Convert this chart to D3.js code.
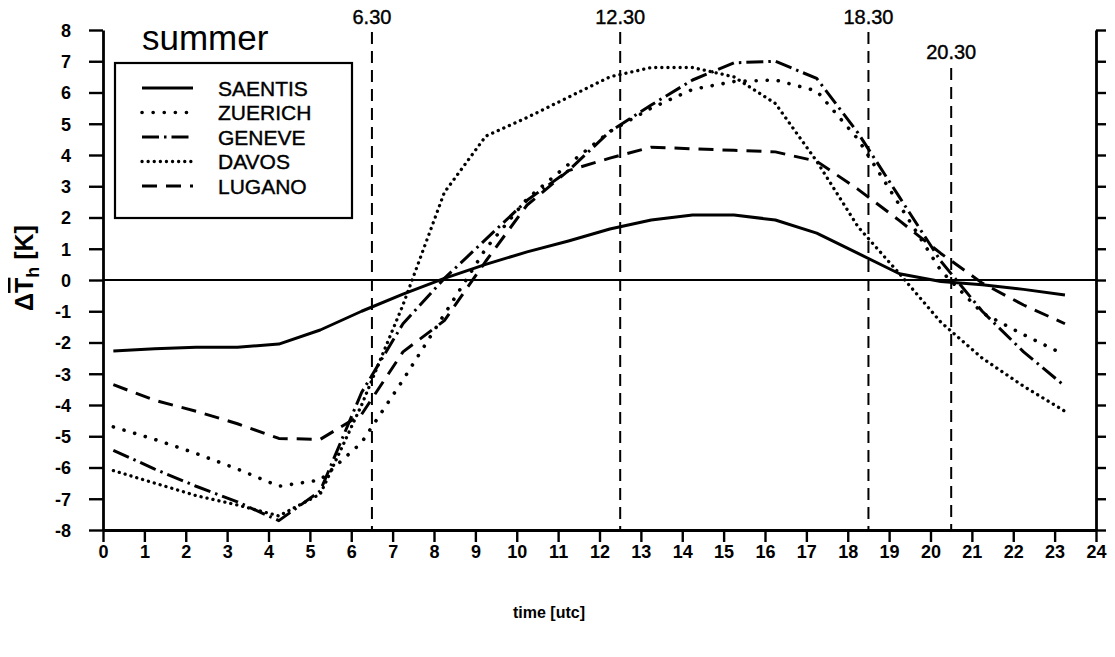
<!DOCTYPE html>
<html>
<head>
<meta charset="utf-8">
<script src="https://cdn.jsdelivr.net/npm/d3@7"></script>
<style>
  body { margin: 0; background: #fff; }
  svg { display: block; font-family: Arial, "Liberation Sans", Helvetica, sans-serif; }
</style>
</head>
<body>
<div id="chart"></div>
<script>
// hourly means, plotted at quarter past each hour
const hours = [0.25, 1.25, 2.25, 3.25, 4.25, 5.25, 6.25, 7.25, 8.25, 9.25, 10.25, 11.25,
               12.25, 13.25, 14.25, 15.25, 16.25, 17.25, 18.25, 19.25, 20.25, 21.25, 22.25, 23.25];

const saentis = [-2.27, -2.2, -2.15, -2.15, -2.05, -1.6, -1.0, -0.45, 0.05, 0.5, 0.9, 1.25,
                 1.63, 1.92, 2.08, 2.08, 1.92, 1.5, 0.85, 0.2, -0.05, -0.15, -0.3, -0.48];
const zuerich = [-4.7, -5.1, -5.55, -6.05, -6.6, -6.4, -5.2, -3.2, -1.1, 1.0, 2.6, 3.7,
                 4.75, 5.5, 6.1, 6.35, 6.4, 6.05, 4.5, 2.4, 0.3, -1.05, -1.75, -2.4];
const geneve  = [-5.45, -6.05, -6.6, -7.1, -7.7, -6.75, -3.6, -1.4, 0.05, 1.3, 2.55, 3.5,
                 4.75, 5.6, 6.4, 6.95, 7.0, 6.45, 4.7, 2.65, 0.6, -1.0, -2.3, -3.4];
const davos   = [-6.1, -6.5, -6.9, -7.2, -7.55, -6.85, -4.0, -0.8, 2.8, 4.6, 5.2, 5.85,
                 6.5, 6.8, 6.8, 6.5, 5.65, 3.8, 1.7, 0.2, -1.35, -2.5, -3.4, -4.2];
const lugano  = [-3.35, -3.85, -4.2, -4.6, -5.07, -5.1, -4.3, -2.3, -1.3, 0.6, 2.4, 3.5,
                 3.9, 4.25, 4.2, 4.15, 4.1, 3.8, 2.9, 1.9, 0.85, -0.1, -0.8, -1.4];

const stationNames = ["SAENTIS", "ZUERICH", "GENEVE", "DAVOS", "LUGANO"];
const stationValues = [saentis, zuerich, geneve, davos, lugano];
const stationDash = ["none", "0.1,11", "17,5,2.5,5", "0.1,6", "15,9"];
const stationCap = ["butt", "round", "butt", "round", "butt"];
const stationWidth = [3, 3.6, 3, 3.3, 3];

const xTicks = [0, 1, 2, 3, 4, 5, 6, 7, 8, 9, 10, 11, 12, 13, 14, 15, 16, 17, 18, 19, 20, 21, 22, 23, 24];
const yTicks = [-8, -7, -6, -5, -4, -3, -2, -1, 0, 1, 2, 3, 4, 5, 6, 7, 8];

const markTimes = [6.5, 12.5, 18.5, 20.5];
const markLabels = ["6.30", "12.30", "18.30", "20.30"];

const W = 1115, H = 657;
const margin = { top: 30, right: 19, bottom: 127, left: 103 };
const width = W - margin.left - margin.right;
const height = H - margin.top - margin.bottom;

const svg = d3.select("#chart")
  .append("svg")
  .attr("width", W)
  .attr("height", H)
  .append("g")
  .attr("transform", `translate(${margin.left},${margin.top})`);

const x = d3.scaleLinear().domain([0, 24]).range([0, width]);
const y = d3.scaleLinear().domain([-8, 8]).range([height, 0]);

// axes
const yAxis = svg.append("g")
  .call(d3.axisLeft(y).tickValues(yTicks).tickSize(14).tickSizeOuter(0).tickPadding(18).tickFormat(d => String(d)));
const xAxis = svg.append("g")
  .attr("transform", `translate(0,${height})`)
  .call(d3.axisBottom(x).tickValues(xTicks).tickSize(12).tickSizeOuter(0).tickPadding(3).tickFormat(d => String(d)));
const rAxis = svg.append("g")
  .attr("transform", `translate(${width},0)`)
  .call(d3.axisRight(y).tickValues(yTicks).tickSize(10).tickSizeOuter(0).tickFormat(""));

[yAxis, xAxis, rAxis].forEach(a => {
  a.select(".domain").attr("stroke", "#000").attr("stroke-width", 2.8);
  a.selectAll(".tick line").attr("stroke", "#000").attr("stroke-width", 2.4);
  a.selectAll(".tick text")
    .attr("fill", "#000")
    .style("font-size", "18px")
    .style("font-weight", "bold");
});
yAxis.selectAll(".tick text").attr("dy", "0.36em");

// zero line
svg.append("line")
  .attr("x1", 0).attr("x2", width)
  .attr("y1", y(0)).attr("y2", y(0))
  .attr("stroke", "#000").attr("stroke-width", 2.2);

// time marks
markTimes.forEach((t, i) => {
  const top = i === 3 ? 38 : 2;
  svg.append("line")
    .attr("x1", x(t)).attr("x2", x(t))
    .attr("y1", top).attr("y2", height)
    .attr("stroke", "#000")
    .attr("stroke-width", 2)
    .attr("stroke-dasharray", "12,7");
  svg.append("text")
    .attr("x", x(t))
    .attr("y", i === 3 ? 29 : -6)
    .attr("text-anchor", "middle")
    .style("font-size", "20px")
    .style("stroke", "#000")
    .style("stroke-width", 0.4)
    .text(markLabels[i]);
});

// station curves
const line = d3.line()
  .x((d, i) => x(hours[i]))
  .y(d => y(d));

stationValues.forEach((vals, k) => {
  svg.append("path")
    .datum(vals)
    .attr("fill", "none")
    .attr("stroke", "#000")
    .attr("stroke-width", stationWidth[k])
    .attr("stroke-dasharray", stationDash[k])
    .attr("stroke-linecap", stationCap[k])
    .attr("stroke-linejoin", "round")
    .attr("d", line);
});

// title + legend
svg.append("text")
  .attr("x", 39)
  .attr("y", 20)
  .style("font-size", "35px")
  .text("summer");

const legend = svg.append("g").attr("transform", "translate(12,33)");
legend.append("rect")
  .attr("width", 237)
  .attr("height", 155)
  .attr("fill", "#fff")
  .attr("stroke", "#000")
  .attr("stroke-width", 2.2);

const rows = legend.selectAll(".row")
  .data(stationNames)
  .enter()
  .append("g")
  .attr("transform", (d, i) => `translate(0,${25 + i * 24.5})`);

rows.append("line")
  .attr("x1", 27).attr("x2", 78)
  .attr("y1", 0).attr("y2", 0)
  .attr("stroke", "#000")
  .attr("stroke-width", (d, i) => stationWidth[i])
  .attr("stroke-dasharray", (d, i) => stationDash[i])
  .attr("stroke-linecap", (d, i) => stationCap[i]);

rows.append("text")
  .attr("x", 103)
  .attr("y", 0)
  .attr("dy", "0.36em")
  .style("font-size", "21px")
  .style("stroke", "#000")
  .style("stroke-width", 0.4)
  .text(d => d);

// axis titles
svg.append("text")
  .attr("x", 446)
  .attr("y", 588)
  .attr("text-anchor", "middle")
  .style("font-size", "16px")
  .style("font-weight", "bold")
  .text("time [utc]");

const yTitle = svg.append("text")
  .attr("transform", `translate(${-70},${238}) rotate(-90)`)
  .attr("text-anchor", "middle")
  .style("font-size", "25px")
  .style("font-weight", "bold");
yTitle.append("tspan").text("Δ");
yTitle.append("tspan").style("text-decoration", "overline").text("T");
yTitle.append("tspan").attr("dy", 6).style("font-size", "18px").text("h");
yTitle.append("tspan").attr("dy", -6).text(" [K]");
</script>
</body>
</html>
